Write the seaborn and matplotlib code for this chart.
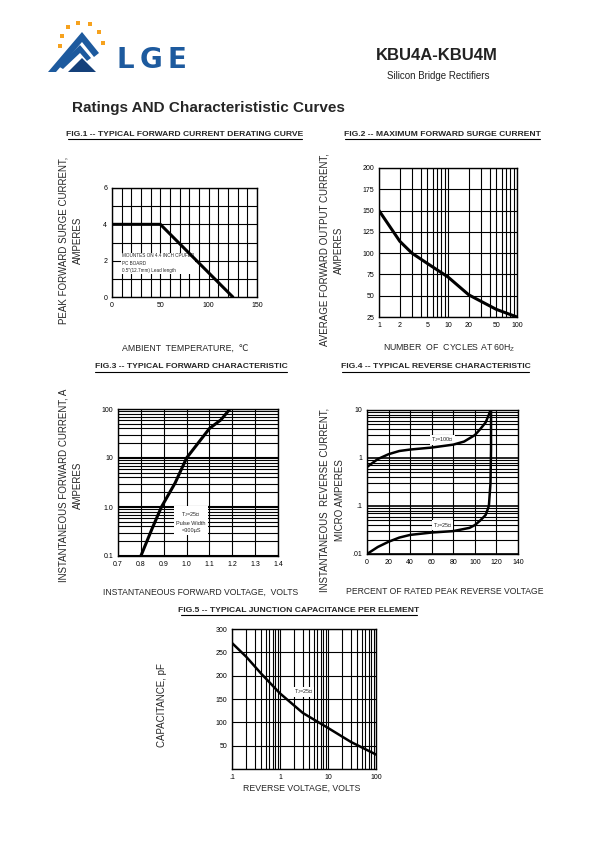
import numpy as np
import matplotlib
matplotlib.use("Agg")
import matplotlib.pyplot as plt
from matplotlib.patches import Polygon, Rectangle
from matplotlib.lines import Line2D
from matplotlib.ticker import FixedLocator, NullFormatter, LogLocator
import seaborn as sns

# --- data ---
fig1_temp = [0, 50, 125]
fig1_current = [4, 4, 0]

fig2_cycles = [1, 2, 3, 5, 10, 20, 50, 100]
fig2_surge = [150, 114, 100, 88, 72, 51, 34, 25]

fig3_voltage = [0.80, 0.85, 0.89, 0.95, 1.00, 1.05, 1.10, 1.15, 1.19]
fig3_current = [0.1, 0.37, 1.0, 3.1, 10, 20, 40, 60, 100]

fig4_pct_100 = [0, 10, 20, 30, 40, 60, 80, 90, 100, 105, 110, 113, 114.5]
fig4_ir_100 = [0.65, 0.95, 1.2, 1.4, 1.5, 1.65, 1.9, 2.2, 3.0, 4.0, 5.5, 8.0, 10]
fig4_pct_25 = [0, 10, 20, 30, 40, 60, 80, 95, 100, 105, 110, 113, 114.5, 115, 115]
fig4_ir_25 = [0.01, 0.014, 0.018, 0.022, 0.025, 0.028, 0.03, 0.035, 0.04, 0.05, 0.065, 0.1, 0.3, 1.5, 10]

fig5_volts = [0.1, 0.2, 0.4, 1, 3, 10, 30, 100]
fig5_cap = [270, 240, 205, 162, 120, 88, 58, 31]

sns.set_theme(style="white")
plt.rcParams["font.family"] = ["Liberation Sans", "DejaVu Sans"]

W, H = 595, 842
fig = plt.figure(figsize=(5.95, 8.42), dpi=100)
fig.patch.set_facecolor("white")


def px_axes(left, top, right, bottom):
    return fig.add_axes([left / W, 1 - bottom / H, (right - left) / W, (bottom - top) / H])


def ftext(x, y, s, **kw):
    kw.setdefault("ha", "center")
    kw.setdefault("va", "center")
    return fig.text(x / W, 1 - y / H, s, **kw)


def fig_title(x0, x1, y, s):
    ftext((x0 + x1) / 2, y, s, fontsize=6.1, fontweight="bold")
    fig.add_artist(Line2D([x0 / W, x1 / W], [1 - (y + 5) / H] * 2, color="black", lw=0.8))


def style_ax(ax):
    for sp in ax.spines.values():
        sp.set_color("black")
        sp.set_linewidth(1.0)
    ax.tick_params(axis="both", which="both", length=2, width=0.6, labelsize=5, pad=1.5,
                   colors="black")
    ax.tick_params(which="minor", length=0)
    ax.set_xlabel("")
    ax.set_ylabel("")


def note(ax, x, y, s, size=4):
    ax.text(x, y, s, fontsize=size, ha="center", va="center", zorder=1.5,
            bbox=dict(facecolor="white", edgecolor="none", pad=0.6))


# --- header ---
blue = "#1d5a9e"
navy = "#14407a"
logo = [
    ([(48, 72), (82, 32), (99, 53), (94, 57), (82, 42), (56, 72)], blue),
    ([(58, 66), (80, 45), (91, 58), (87, 61), (80, 53), (63, 69)], blue),
    ([(68, 72), (82, 58), (96, 72)], navy),
]
for pts, col in logo:
    fig.add_artist(Polygon([(x / W, 1 - y / H) for x, y in pts], closed=True,
                           transform=fig.transFigure, color=col, lw=0))
for cx, cy in [(60, 46), (62, 36), (68, 27), (78, 23), (90, 24), (99, 32), (103, 43)]:
    fig.add_artist(Rectangle(((cx - 2.3) / W, 1 - (cy + 2.3) / H), 4.6 / W, 4.6 / H,
                             transform=fig.transFigure, color="#f6a21e", lw=0))
for lx, ch in [(125, "L"), (151, "G"), (177, "E")]:
    ftext(lx, 60, ch, fontsize=20, fontweight="bold", color=blue, family=["DejaVu Sans"])
ftext(437, 55, "KBU4A-KBU4M", fontsize=12, fontweight="bold", color="#222222")
ftext(438, 76, "Silicon Bridge Rectifiers", fontsize=7, color="#222222")
ftext(72, 108, "Ratings AND Characterististic Curves", fontsize=11, fontweight="bold",
      ha="left")

# --- FIG.1 ---
fig_title(68, 302, 134, "FIG.1 -- TYPICAL FORWARD CURRENT DERATING CURVE")
ax1 = px_axes(112, 188, 257, 297)
sns.lineplot(x=fig1_temp, y=fig1_current, ax=ax1, color="black", lw=2.2)
ax1.set_xlim(0, 150)
ax1.set_ylim(0, 6)
ax1.set_xticks([0, 50, 100, 150])
ax1.set_yticks([0, 2, 4, 6])
ax1.xaxis.set_minor_locator(FixedLocator(np.arange(0, 151, 10)))
ax1.yaxis.set_minor_locator(FixedLocator(np.arange(0, 7, 1)))
ax1.grid(True, which="both", color="black", lw=0.8)
style_ax(ax1)
ax1.text(10, 1.85, "MOUNTES ON 4.4 INCH CPUFER\nPC BOARD\n0.5\"(12.7mm) Lead length",
         fontsize=3.3, va="center", ha="left", linespacing=1.6, zorder=1.5,
         bbox=dict(facecolor="white", edgecolor="none", pad=0.5))
ftext(63, 240, "PEAK FORWARD SURGE CURRENT,", rotation=90, fontsize=7)
ftext(78, 240, "AMPERES", rotation=90, fontsize=7)
ftext(185, 348, "AMBIENT  TEMPERATURE,  \u2103", fontsize=6.3)

# --- FIG.2 ---
fig_title(345, 540, 134, "FIG.2 -- MAXIMUM FORWARD SURGE CURRENT")
ax2 = px_axes(379, 168, 517, 317)
sns.lineplot(x=fig2_cycles, y=fig2_surge, ax=ax2, color="black", lw=2.2)
ax2.set_xscale("log")
ax2.set_xlim(1, 100)
ax2.set_ylim(25, 200)
ax2.set_xticks([1, 2, 5, 10, 20, 50, 100])
ax2.set_xticklabels(["1", "2", "5", "10", "20", "50", "100"])
ax2.xaxis.set_minor_locator(LogLocator(base=10, subs=np.arange(2, 10)))
ax2.xaxis.set_minor_formatter(NullFormatter())
ax2.set_yticks(np.arange(25, 201, 25))
ax2.grid(True, which="both", axis="x", color="black", lw=0.8)
ax2.grid(True, which="major", axis="y", color="black", lw=0.8)
style_ax(ax2)
ftext(325, 250, "AVERAGE FORWARD OUTPUT CURRENT,", rotation=90, fontsize=7)
ftext(339, 250, "AMPERES", rotation=90, fontsize=7)
ftext(449, 348, "NUMBER  OF  CYCLES AT 60H$_{\\mathregular{Z}}$", fontsize=6.3)

# --- FIG.3 ---
fig_title(95, 287, 367, "FIG.3 -- TYPICAL FORWARD CHARACTERISTIC")
ax3 = px_axes(118, 409, 278, 556)
sns.lineplot(x=fig3_voltage, y=fig3_current, ax=ax3, color="black", lw=2.2)
ax3.set_yscale("log")
ax3.set_xlim(0.7, 1.4)
ax3.set_ylim(0.1, 100)
ax3.set_xticks(np.round(np.arange(0.7, 1.41, 0.1), 1))
ax3.set_xticklabels(["0.7", "0.8", "0.9", "1.0", "1.1", "1.2", "1.3", "1.4"])
ax3.set_yticks([0.1, 1, 10, 100])
ax3.set_yticklabels(["0.1", "1.0", "10", "100"])
ax3.yaxis.set_minor_locator(LogLocator(base=10, subs=np.arange(2, 10)))
ax3.yaxis.set_minor_formatter(NullFormatter())
ax3.grid(True, which="major", color="black", lw=1.5)
ax3.grid(True, which="minor", axis="y", color="black", lw=0.8)
ax3.grid(True, which="major", axis="x", color="black", lw=0.8)
style_ax(ax3)
ax3.text(1.02, 0.5, "T$_{\\mathregular{J}}$=25\u2103\nPulse Width\n=300\u00b5S", fontsize=4,
         ha="center", va="center", linespacing=1.5, zorder=1.5,
         bbox=dict(facecolor="white", edgecolor="none", pad=1.5))
ftext(63, 485, "INSTANTANEOUS FORWARD CURRENT, A", rotation=90, fontsize=7)
ftext(78, 485, "AMPERES", rotation=90, fontsize=7)
ftext(201, 592, "INSTANTANEOUS FORWARD VOLTAGE,  VOLTS", fontsize=6.2)

# --- FIG.4 ---
fig_title(342, 529, 367, "FIG.4 -- TYPICAL REVERSE CHARACTERISTIC")
ax4 = px_axes(367, 410, 518, 554)
sns.lineplot(x=fig4_pct_100, y=fig4_ir_100, ax=ax4, color="black", lw=1.8,
             sort=False, estimator=None)
sns.lineplot(x=fig4_pct_25, y=fig4_ir_25, ax=ax4, color="black", lw=1.8,
             sort=False, estimator=None)
ax4.set_yscale("log")
ax4.set_xlim(0, 140)
ax4.set_ylim(0.01, 10)
ax4.set_xticks(np.arange(0, 141, 20))
ax4.set_yticks([0.01, 0.1, 1, 10])
ax4.set_yticklabels([".01", ".1", "1", "10"])
ax4.yaxis.set_minor_locator(LogLocator(base=10, subs=np.arange(2, 10)))
ax4.yaxis.set_minor_formatter(NullFormatter())
ax4.grid(True, which="major", color="black", lw=1.2)
ax4.grid(True, which="minor", axis="y", color="black", lw=0.8)
ax4.grid(True, which="major", axis="x", color="black", lw=0.8)
style_ax(ax4)
note(ax4, 70, 2.4, "T$_{\\mathregular{J}}$=100\u2103")
note(ax4, 70, 0.04, "T$_{\\mathregular{J}}$=25\u2103")
ftext(325, 500, "INSTANTANEOUS  REVERSE CURRENT,", rotation=90, fontsize=7)
ftext(340, 500, "MICRO AMPERES", rotation=90, fontsize=7)
ftext(445, 592, "PERCENT OF RATED PEAK REVERSE VOLTAGE", fontsize=6.2)

# --- FIG.5 ---
fig_title(181, 417, 610, "FIG.5 -- TYPICAL JUNCTION CAPACITANCE PER ELEMENT")
ax5 = px_axes(232, 629, 376, 769)
sns.lineplot(x=fig5_volts, y=fig5_cap, ax=ax5, color="black", lw=1.8)
ax5.set_xscale("log")
ax5.set_xlim(0.1, 100)
ax5.set_ylim(0, 300)
ax5.set_xticks([0.1, 1, 10, 100])
ax5.set_xticklabels([".1", "1", "10", "100"])
ax5.xaxis.set_minor_locator(LogLocator(base=10, subs=np.arange(2, 10)))
ax5.xaxis.set_minor_formatter(NullFormatter())
ax5.set_yticks(np.arange(0, 301, 50))
ax5.set_yticklabels(["", "50", "100", "150", "200", "250", "300"])
ax5.grid(True, which="both", axis="x", color="black", lw=0.8)
ax5.grid(True, which="major", axis="y", color="black", lw=0.8)
style_ax(ax5)
note(ax5, 3.1, 165, "T$_{\\mathregular{J}}$=25\u2103")
ftext(162, 705, "CAPACITANCE, pF", rotation=90, fontsize=7)
ftext(302, 788, "REVERSE VOLTAGE, VOLTS", fontsize=6.3)

fig.savefig("out.png", dpi=100, facecolor="white")
